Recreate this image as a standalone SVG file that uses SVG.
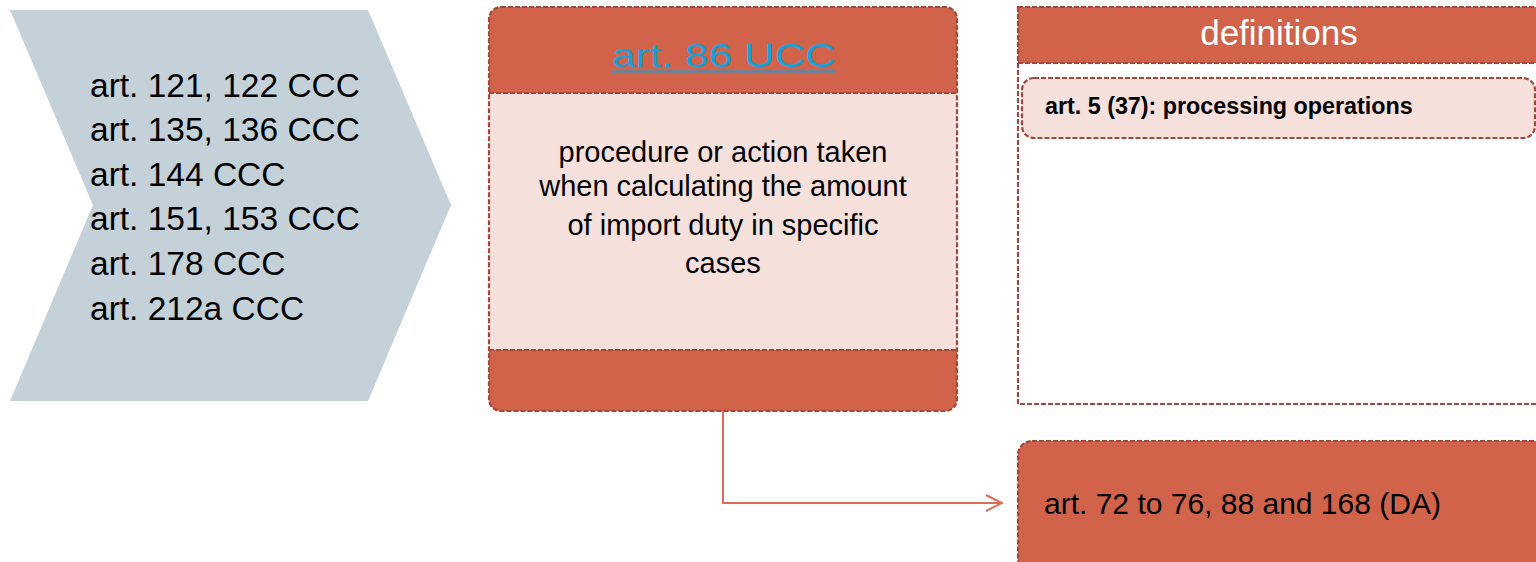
<svg xmlns="http://www.w3.org/2000/svg" width="1536" height="562" viewBox="0 0 1536 562">
  <defs>
    <style>
      .txt { font-family: "Liberation Sans", Arial, sans-serif; fill: #000; }
      .dash { stroke: #a4473a; stroke-width: 2.2; stroke-dasharray: 5 2; fill: none; }
      .red { fill: #d0634a; }
      .pink { fill: #f5e0dc; }
      .link { stroke: #dc6e58; stroke-width: 2; fill: none; }
    </style>
    <marker id="open-arrow" viewBox="0 0 20 20" refX="18" refY="10" markerWidth="20" markerHeight="20" markerUnits="userSpaceOnUse" orient="auto">
      <path d="M2 2 L18 10 L2 18" fill="none" stroke="#dc6e58" stroke-width="2"/>
    </marker>
    <clipPath id="mid-clip">
      <rect x="489" y="7" width="468" height="404" rx="12"/>
    </clipPath>
  </defs>

  <rect width="1536" height="562" fill="#ffffff"/>

  <!-- source articles chevron -->
  <g id="ccc-articles">
    <polygon points="10,10 368,10 451,205 368,401 10,401 93,205" fill="#c5d1d8"/>
    <g class="txt" font-size="33.5">
      <text x="90" y="97">art. 121, 122 CCC</text>
      <text x="90" y="141">art. 135, 136 CCC</text>
      <text x="90" y="186">art. 144 CCC</text>
      <text x="90" y="230">art. 151, 153 CCC</text>
      <text x="90" y="275">art. 178 CCC</text>
      <text x="90" y="320">art. 212a CCC</text>
    </g>
  </g>

  <!-- article 86 UCC -->
  <g id="art86">
    <g clip-path="url(#mid-clip)">
      <rect x="489" y="7" width="468" height="86" class="red"/>
      <rect x="489" y="93" width="468" height="257" class="pink"/>
      <rect x="489" y="350" width="468" height="61" class="red"/>
    </g>
    <line x1="489" y1="93" x2="957" y2="93" class="dash"/>
    <line x1="489" y1="350" x2="957" y2="350" class="dash"/>
    <rect x="489" y="7" width="468" height="404" rx="12" class="dash"/>
    <text x="612" y="67" font-family="Liberation Sans, Arial, sans-serif" font-size="34" fill="#1aa0d8" textLength="224" lengthAdjust="spacingAndGlyphs">art. 86 UCC</text>
    <line x1="612" y1="71.5" x2="836" y2="71.5" stroke="#1aa0d8" stroke-width="2"/>
    <g class="txt" font-size="29" text-anchor="middle">
      <text x="723" y="162">procedure or action taken</text>
      <text x="723" y="196">when calculating the amount</text>
      <text x="723" y="235">of import duty in specific</text>
      <text x="723" y="273">cases</text>
    </g>
  </g>

  <!-- definitions -->
  <g id="definitions">
    <rect x="1018" y="7" width="540" height="56" class="red"/>
    <rect x="1018" y="7" width="540" height="397" class="dash"/>
    <line x1="1018" y1="63" x2="1540" y2="63" class="dash"/>
    <text x="1279" y="45" text-anchor="middle" font-family="Liberation Sans, Arial, sans-serif" font-size="35" fill="#ffffff">definitions</text>
    <g id="art5-37">
      <rect x="1022" y="78" width="513" height="60" rx="12" class="pink"/>
      <rect x="1022" y="78" width="513" height="60" rx="12" class="dash"/>
      <text x="1045" y="114" class="txt" font-size="23.3" font-weight="bold">art. 5 (37): processing operations</text>
    </g>
  </g>

  <!-- delegated act articles -->
  <g id="da-articles">
    <rect x="1018" y="441" width="530" height="140" rx="14" class="red"/>
    <rect x="1018" y="441" width="530" height="140" rx="14" class="dash"/>
    <text x="1044" y="514" class="txt" font-size="30">art. 72 to 76, 88 and 168 (DA)</text>
  </g>

  <!-- connectors -->
  <g id="connectors">
    <path d="M723 411 V503 H1002" class="link" marker-end="url(#open-arrow)"/>
  </g>
</svg>
